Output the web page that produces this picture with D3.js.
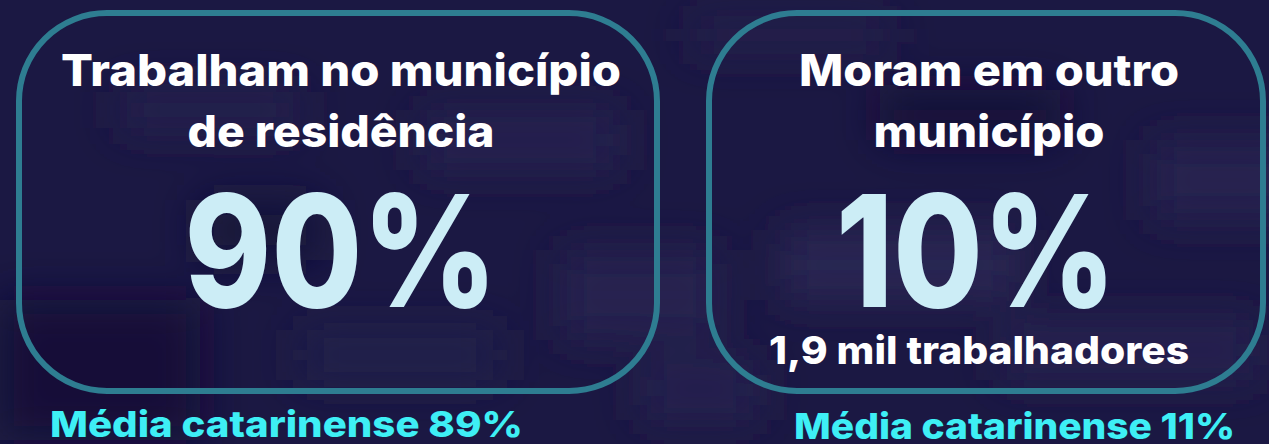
<!DOCTYPE html>
<head>
  <meta charset="utf-8">
  <script src="https://d3js.org/d3.v7.min.js"></script>
  <style>
    body { margin: 0; background: #1a1741; }
    svg { display: block; }
    text { font-family: Inter, "Open Sans", sans-serif; font-weight: 800; }
  </style>
</head>
<body>
  <svg></svg>
  <script>
    var width = 1269, height = 444;

    // data
    var titleLines = [['Trabalham no município', 'de residência'], ['Moram em outro', 'município']];
    var shares = [90, 10];
    var workerNotes = ['', '1,9 mil trabalhadores'];
    var stateAverages = [89, 11];

    // layout of the two cards (stroke centre lines)
    var cardX = [[19, 657], [709, 1263]];
    var cardTop = 13, cardBottom = 391, cardRadius = 88;
    var textCentre = [341, 989];
    var bigCentre = [341, 976];
    var noteCentre = [338, 979];
    var avgStart = [50, 794];
    var titleWidths = [[560, 307], [380, 231]];
    var bigWidths = [313, 280];
    var avgWidths = [473, 441];

    var svg = d3.select('svg')
      .attr('width', width)
      .attr('height', height);

    // blurred photo-like backdrop
    var defs = svg.append('defs');
    defs.append('filter')
      .attr('id', 'soft')
      .attr('x', '-50%').attr('y', '-50%')
      .attr('width', '200%').attr('height', '200%')
      .append('feGaussianBlur')
      .attr('stdDeviation', 22);

    svg.append('rect')
      .attr('width', width)
      .attr('height', height)
      .attr('fill', '#1b1843');

    var blobs = [
      [120, 90, 180, 40, '#27234f'], [420, 110, 200, 60, '#26224f'], [560, 250, 160, 90, '#28244f'],
      [780, 230, 240, 70, '#2a2653'], [1000, 320, 260, 60, '#27234f'], [1150, 140, 150, 80, '#28244f'],
      [0, 300, 200, 140, '#120f37'], [300, 330, 200, 50, '#24204c'], [690, 20, 200, 30, '#27224d'],
      [880, 90, 180, 50, '#141139'], [640, 360, 120, 60, '#27234f'], [200, 200, 120, 60, '#15123a']
    ];
    svg.append('g')
      .attr('filter', 'url(#soft)')
      .selectAll('rect')
      .data(blobs).enter().append('rect')
      .attr('x', function(d) { return d[0]; })
      .attr('y', function(d) { return d[1]; })
      .attr('width', function(d) { return d[2]; })
      .attr('height', function(d) { return d[3]; })
      .attr('fill', function(d) { return d[4]; });

    var cards = svg.selectAll('g.card')
      .data(d3.range(shares.length)).enter().append('g')
      .attr('class', 'card');

    cards.append('rect')
      .attr('x', function(i) { return cardX[i][0]; })
      .attr('y', cardTop)
      .attr('width', function(i) { return cardX[i][1] - cardX[i][0]; })
      .attr('height', cardBottom - cardTop)
      .attr('rx', cardRadius)
      .attr('fill', 'none')
      .attr('stroke', '#2e7d91')
      .attr('stroke-width', 6);

    var lineBase = [86, 147];
    cards.each(function(i) {
      var g = d3.select(this);
      titleLines[i].forEach(function(line, k) {
        g.append('text')
          .attr('x', textCentre[i])
          .attr('y', lineBase[k])
          .attr('text-anchor', 'middle')
          .attr('font-size', 44)
          .attr('fill', '#ffffff')
          .attr('textLength', titleWidths[i][k])
          .attr('lengthAdjust', 'spacingAndGlyphs')
          .text(line);
      });

      g.append('text')
        .attr('x', bigCentre[i])
        .attr('y', 307)
        .attr('text-anchor', 'middle')
        .attr('font-size', 156)
        .attr('font-weight', 900)
        .attr('fill', '#ccedf6')
        .attr('textLength', bigWidths[i])
        .attr('lengthAdjust', 'spacingAndGlyphs')
        .text(shares[i] + '%');

      if (workerNotes[i]) {
        g.append('text')
          .attr('x', noteCentre[i])
          .attr('y', 364)
          .attr('text-anchor', 'middle')
          .attr('font-size', 38)
          .attr('fill', '#ffffff')
          .attr('textLength', 420)
          .attr('lengthAdjust', 'spacingAndGlyphs')
          .text(workerNotes[i]);
      }

      g.append('text')
        .attr('x', avgStart[i])
        .attr('y', 437 + i * 2)
        .attr('font-size', 36)
        .attr('fill', '#3eeff5')
        .attr('textLength', avgWidths[i])
        .attr('lengthAdjust', 'spacingAndGlyphs')
        .text('Média catarinense ' + stateAverages[i] + '%');
    });
  </script>
</body>
